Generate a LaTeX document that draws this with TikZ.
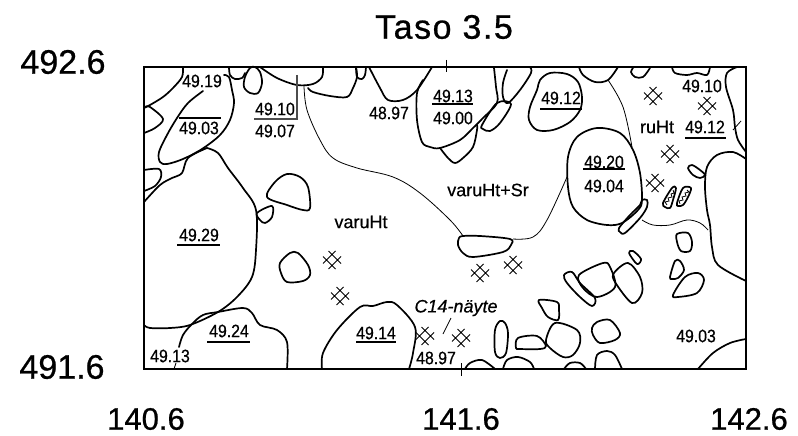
\documentclass[tikz,border=0pt]{standalone}
\usepackage{fontspec}
\setmainfont[FakeStretch=0.88,FakeBold=0.5]{Liberation Sans}
\newfontfamily\wordf[FakeBold=0.5]{Liberation Sans}
\newfontfamily\bigf[FakeBold=0.7]{Liberation Sans}
\newfontfamily\titlef[FakeBold=0.7,LetterSpace=4.5]{Liberation Sans}
\tikzset{
 stone/.style={line width=1.7pt,line join=round,line cap=round},
 thinl/.style={line width=0.8pt},
 rulel/.style={line width=1.1pt},
 lab/.style={font=\fontsize{18}{18}\selectfont,inner sep=0pt},
 wlab/.style={font=\wordf\fontsize{18}{18}\selectfont,inner sep=0pt},
 big/.style={font=\bigf\fontsize{34}{34}\selectfont,inner sep=0pt},
 bigb/.style={font=\bigf\fontsize{31}{31}\selectfont,inner sep=0pt},
}
\newcommand{\cls}[1]{\draw[stone] plot[smooth cycle,tension=0.55] coordinates {#1};}
\newcommand{\opn}[1]{\draw[stone] plot[smooth,tension=0.55] coordinates {#1};}
\newcommand{\thinp}[1]{\draw[thinl] plot[smooth,tension=0.6] coordinates {#1};}
\newcommand{\xmark}[1]{\begin{scope}[shift={#1},thinl]
 \draw (-9,-3.5)--(3.5,9) (-3.5,-9)--(9,3.5) (-9,3.5)--(3.5,-9) (-3.5,9)--(9,-3.5);
\end{scope}}
\begin{document}
\begin{tikzpicture}[x=1pt,y=-1pt]
\useasboundingbox (0,0) rectangle (798,436);
% frame
\draw[line width=2pt] (144,67) rectangle (746,369);
\draw[thinl] (446.5,60)--(446.5,72) (461.5,363)--(461.5,376);
% top and left stones
\opn{(183,67)(182,77)(173,88)(163,97)(150,105)(144,108)}
\opn{(145,107)(150,107)(163,119)(155,128)(144,133)}
\opn{(224,75)(229,77)(232,90)(234,103)(230,120)(220,135)(202,149)(183,159)(167,164)(160,162)(159,152)(167,135)(177,118)(188,103)(203,91)}
\opn{(207,148)(218,153)(228,168)(243,188)(256,210)(256,250)(252,277)(237,297)(218,312)(190,325)(170,328)(150,328)(144,325)}
\opn{(207,148)(188,158)(182,173)(172,178)(160,185)(144,202)}
\opn{(144,170)(159,169)(161,177)(155,186)(144,191)}
\opn{(229,67)(230,75)(235,79)(242,78)(245,73)}
\cls{(250,68)(245,77)(244,87)(250,93)(258,93)(262,83)(260,72)(255,67)}
\opn{(260,67)(277,78)(297,85)(313,84)(322,77)(323,67)}
\opn{(308,88)(313,92)(330,96)(347,97)(353,88)(357,77)(356,67)}
\opn{(356,67)(357,77)(362,79)(365,75)(366,67)}
\opn{(369,67)(380,88)(388,100)(403,100)(417,90)(432,67)}
\opn{(423,80)(417,93)(417,120)(422,142)(430,147)(440,148)(460,140)(473,128)(483,118)(497,103)(496,87)(494,68)}
\opn{(440,148)(448,158)(455,163)(463,158)(473,147)(477,130)(477,125)}
\cls{(497,103)(511,104)(500,123)(490,131)(483,129)(482,125)}
\opn{(507,70)(503,83)(503,97)(508,103)(520,90)(531,73)(530,67)}
\cls{(537,90)(540,80)(550,73)(567,74)(578,82)(582,97)(580,110)(570,122)(553,130)(537,130)(529,120)(530,107)}
\opn{(579,67)(583,75)(595,82)(608,80)(618,67)}
\opn{(633,68)(631,72)(635,77)(643,77)(650,68)}
\opn{(672,67)(675,73)(687,75)(697,73)(707,75)(710,67)}
\opn{(737,67)(727,73)(726,87)(733,110)(735,127)(738,140)(746,152)}
\draw[thinl] (733,130)--(741,121);
\cls{(597,128)(620,133)(633,150)(640,173)(642,200)(638,210)(622,223)(607,225)(587,220)(573,207)(568,187)(568,157)(577,137)}
\cls{(642,200)(647,200)(647,207)(640,218)(625,233)(620,232)(619,228)(630,215)(640,205)}
\opn{(746,159)(733,152)(717,155)(707,167)(705,187)(707,210)(710,225)(712,247)(718,265)(746,281)}
\cls{(688,168)(692,165)(700,170)(705,175)(700,178)(693,175)}
\cls{(663,203)(672,188)(676,188)(673,200)(670,208)(665,207)}
\cls{(677,203)(683,188)(691,188)(688,197)(683,205)(678,206)}
\draw[thinl] (667,205)--(665,202)--(669,201)--(668,198)--(672,197)--(671,194)--(674,193)--(673,190)
 (680,204)--(679,201)--(683,200)--(682,197)--(686,196)--(685,193)--(689,192)--(687,190);
% thin boundaries
\thinp{(608,80)(623,107)(632,147)}
\thinp{(642,220)(653,225)(670,225)(687,220)(700,223)(708,230)}
\thinp{(567,177)(547,220)(533,237)(513,239)}
\thinp{(304,86)(307,110)(320,140)(333,158)(357,168)(393,177)(420,193)(450,220)(463,236)}
% centre
\cls{(463,236)(480,236)(510,239)(511,245)(503,252)(473,257)(463,253)(458,245)(459,238)}
\cls{(267,197)(275,182)(287,174)(300,177)(308,187)(310,208)(303,210)(287,205)}
\cls{(257,213)(272,206)(272,217)(265,223)(260,220)}
\cls{(280,263)(290,253)(298,253)(308,265)(310,275)(303,281)(287,282)(281,273)}
\opn{(179,347)(183,335)(192,324)(203,315)(218,312)(243,308)(252,313)(260,325)(277,330)(287,342)(287,369)}
\draw[thinl] (174,369)--(176,363);
\opn{(322,369)(323,353)(337,330)(360,307)(373,306)(387,302)(397,305)(415,327)(413,353)(409,369)}
% bottom stones
\opn{(465,369)(470,363)(482,360)(495,369)}
\opn{(503,369)(507,360)(518,357)(530,362)(534,369)}
\opn{(564,369)(570,363)(580,363)(586,369)}
\opn{(595,369)(597,355)(607,351)(615,355)(622,369)}
\opn{(698,369)(713,353)(730,343)(746,339)}
\cls{(495,330)(500,321)(505,323)(508,333)(506,353)(500,358)(495,352)}
\cls{(516,348)(518,338)(537,336)(546,346)(540,349)(520,349)}
\cls{(555,323)(577,330)(580,343)(573,355)(563,357)(550,348)(546,340)}
\cls{(592,328)(597,322)(610,320)(620,333)(615,340)(600,343)(593,335)}
\cls{(539,300)(557,302)(559,310)(558,320)(548,317)(542,308)}
\cls{(564,275)(572,272)(580,283)(595,298)(592,306)(580,297)(567,283)}
\cls{(579,275)(603,263)(610,267)(615,287)(597,297)(583,288)}
\cls{(614,273)(628,263)(640,277)(642,293)(632,303)(615,282)}
\cls{(629,253)(633,251)(641,259)(637,264)}
\cls{(670,277)(675,261)(680,261)(684,270)(678,278)(672,279)}
\cls{(677,234)(688,233)(692,242)(690,251)(681,251)(677,242)}
\cls{(673,295)(685,277)(698,273)(704,280)(697,293)(678,297)}
% crosses
\xmark{(653,96)}\xmark{(707,106)}\xmark{(670,154)}\xmark{(655,183)}
\xmark{(332,260)}\xmark{(340,296)}\xmark{(425,336)}\xmark{(461,338)}
\xmark{(480,273)}\xmark{(513,265)}
% rules
\draw[rulel,gray!60!black] (297,75)--(297,119)--(254,119);
\draw[rulel] (179,118)--(221,118) (432,104)--(473,104) (540,109)--(582,109)
 (685,138)--(726,138) (583,169)--(625,169) (177,245)--(220,245)
 (207,342)--(250,342) (356,342)--(396,342);
\draw[thinl] (451,318)--(443,334);
% texts
\node[lab] (t1) at (202,81) {49.19};
\node[lab] (t2) at (199,128) {49.03};
\node[lab] (t3) at (275,109) {49.10};
\node[lab] (t4) at (275,131) {49.07};
\node[lab] (t5) at (389,113) {48.97};
\node[lab] (t6) at (453,96) {49.13};
\node[lab] (t7) at (453,118) {49.00};
\node[lab] (t8) at (561,98) {49.12};
\node[lab] (t9) at (702,86) {49.10};
\node[lab] (t10) at (705,127) {49.12};
\node[wlab] (t11) at (657,127) {ruHt};
\node[lab] (t12) at (604,162) {49.20};
\node[lab] (t13) at (604,186) {49.04};
\node[wlab] (t14) at (488,190) {varuHt+Sr};
\node[wlab] (t15) at (361,222) {varuHt};
\node[lab] (t16) at (199,235) {49.29};
\node[lab] (t17) at (229,331) {49.24};
\node[lab] (t18) at (376,333) {49.14};
\node[lab] (t19) at (170,356) {49.13};
\node[wlab,font=\wordf\fontsize{18}{18}\selectfont\itshape] (t20) at (456,308) {C14-näyte};
\node[lab] (t21) at (436,358) {48.97};
\node[lab] (t22) at (696,336) {49.03};
\node[big,font=\titlef\fontsize{34}{34}\selectfont] (t23) at (444,27) {Taso 3.5};
\node[big] (t24) at (63,62) {492.6};
\node[big] (t25) at (62,367) {491.6};
\node[bigb] (t26) at (146,419) {140.6};
\node[bigb] (t27) at (461,419) {141.6};
\node[bigb] (t28) at (749,419) {142.6};
\end{tikzpicture}
\end{document}
